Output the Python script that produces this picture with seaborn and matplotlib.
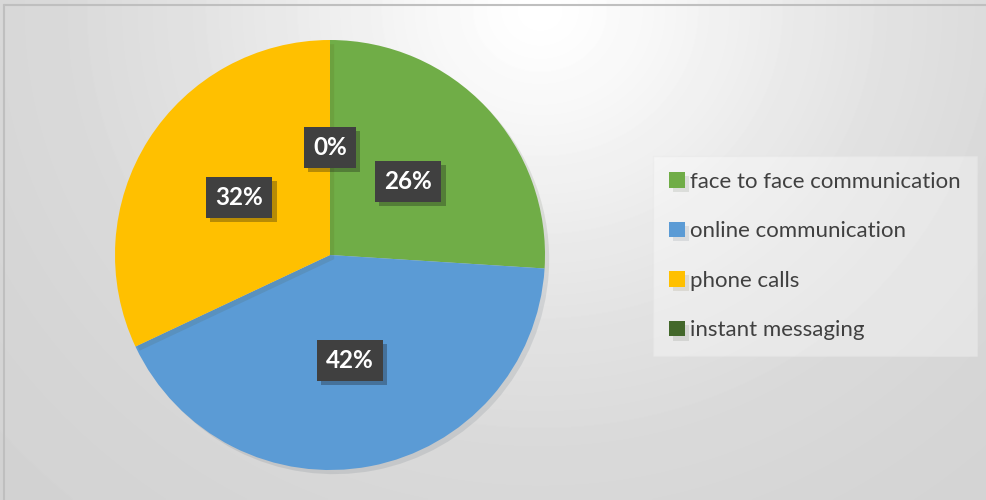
import numpy as np
import matplotlib
matplotlib.use('Agg')
import matplotlib.pyplot as plt
import matplotlib.patheffects as pe
from matplotlib.lines import Line2D
import seaborn as sns

# dados do grafico
categorias = ['face to face communication', 'online communication',
              'phone calls', 'instant messaging']
valores = [26, 42, 32, 0]
cores = ['#70AD47', '#5B9BD5', '#FFC000', '#43682B']

sns.set_theme(style='white')
plt.rcParams['font.family'] = ['Lato', 'DejaVu Sans']
paleta = sns.color_palette(cores)

fig = plt.figure(figsize=(9.87, 5), dpi=100)

# fundo com gradiente cinza (mais claro no alto, no meio)
bg = fig.add_axes([0, 0, 1, 1], zorder=-10)
W, H = 987, 500
xx, yy = np.meshgrid(np.arange(W), np.arange(H))
r = np.sqrt(((xx - 540) / 520.0) ** 2 + ((yy - 10) / 480.0) ** 2)
val = 255 - 46 * np.tanh(1.25 * r ** 1.3)
bg.imshow(val, cmap='gray', vmin=0, vmax=255, extent=[0, 1, 0, 1],
          aspect='auto', origin='upper', interpolation='bilinear')
bg.axis('off')

# moldura (so topo e esquerda aparecem)
fig.add_artist(Line2D([4.5 / W, 1], [1 - 4.5 / H, 1 - 4.5 / H],
                      transform=fig.transFigure, color='#bfbfbf', lw=1.5))
fig.add_artist(Line2D([4.5 / W, 4.5 / W], [0, 1 - 4.5 / H],
                      transform=fig.transFigure, color='#bfbfbf', lw=1.5))

# pizza
ax = fig.add_axes([(330 - 215) / W, (500 - 255 - 215) / H, 430 / W, 430 / H])
ax.set_facecolor('none')
wedges, _, autotexts = ax.pie(valores, colors=paleta, startangle=90,
                              counterclock=False, radius=1,
                              autopct='%1.0f%%', pctdistance=0.5,
                              wedgeprops={'linewidth': 0})
for w in wedges:
    w.set_path_effects([pe.SimplePatchShadow(offset=(3, -3), alpha=0.1),
                        pe.Normal()])
for t in autotexts:
    t.set_color('white')
    t.set_fontsize(17.5)
    t.set_fontweight('bold')
    t.set_bbox(dict(boxstyle='square,pad=0.38', facecolor='#404040',
                    edgecolor='none'))
    t.get_bbox_patch().set_path_effects(
        [pe.SimplePatchShadow(offset=(3, -3), alpha=0.3), pe.Normal()])
ax.set_xlim(-1, 1)
ax.set_ylim(-1, 1)
ax.set_aspect('equal')
ax.axis('off')

# legenda
leg = ax.legend(wedges, categorias, loc='center left',
                bbox_to_anchor=(653 / W, 1 - 256 / H),
                bbox_transform=fig.transFigure,
                fontsize=16, labelcolor='#404040', frameon=True,
                fancybox=False, facecolor='white', framealpha=0.35,
                edgecolor='#e4e4e4', handlelength=0.7, handleheight=0.7,
                handletextpad=0.25, labelspacing=1.33, borderpad=0.72,
                borderaxespad=0)

plt.savefig('out.png', dpi=100)
